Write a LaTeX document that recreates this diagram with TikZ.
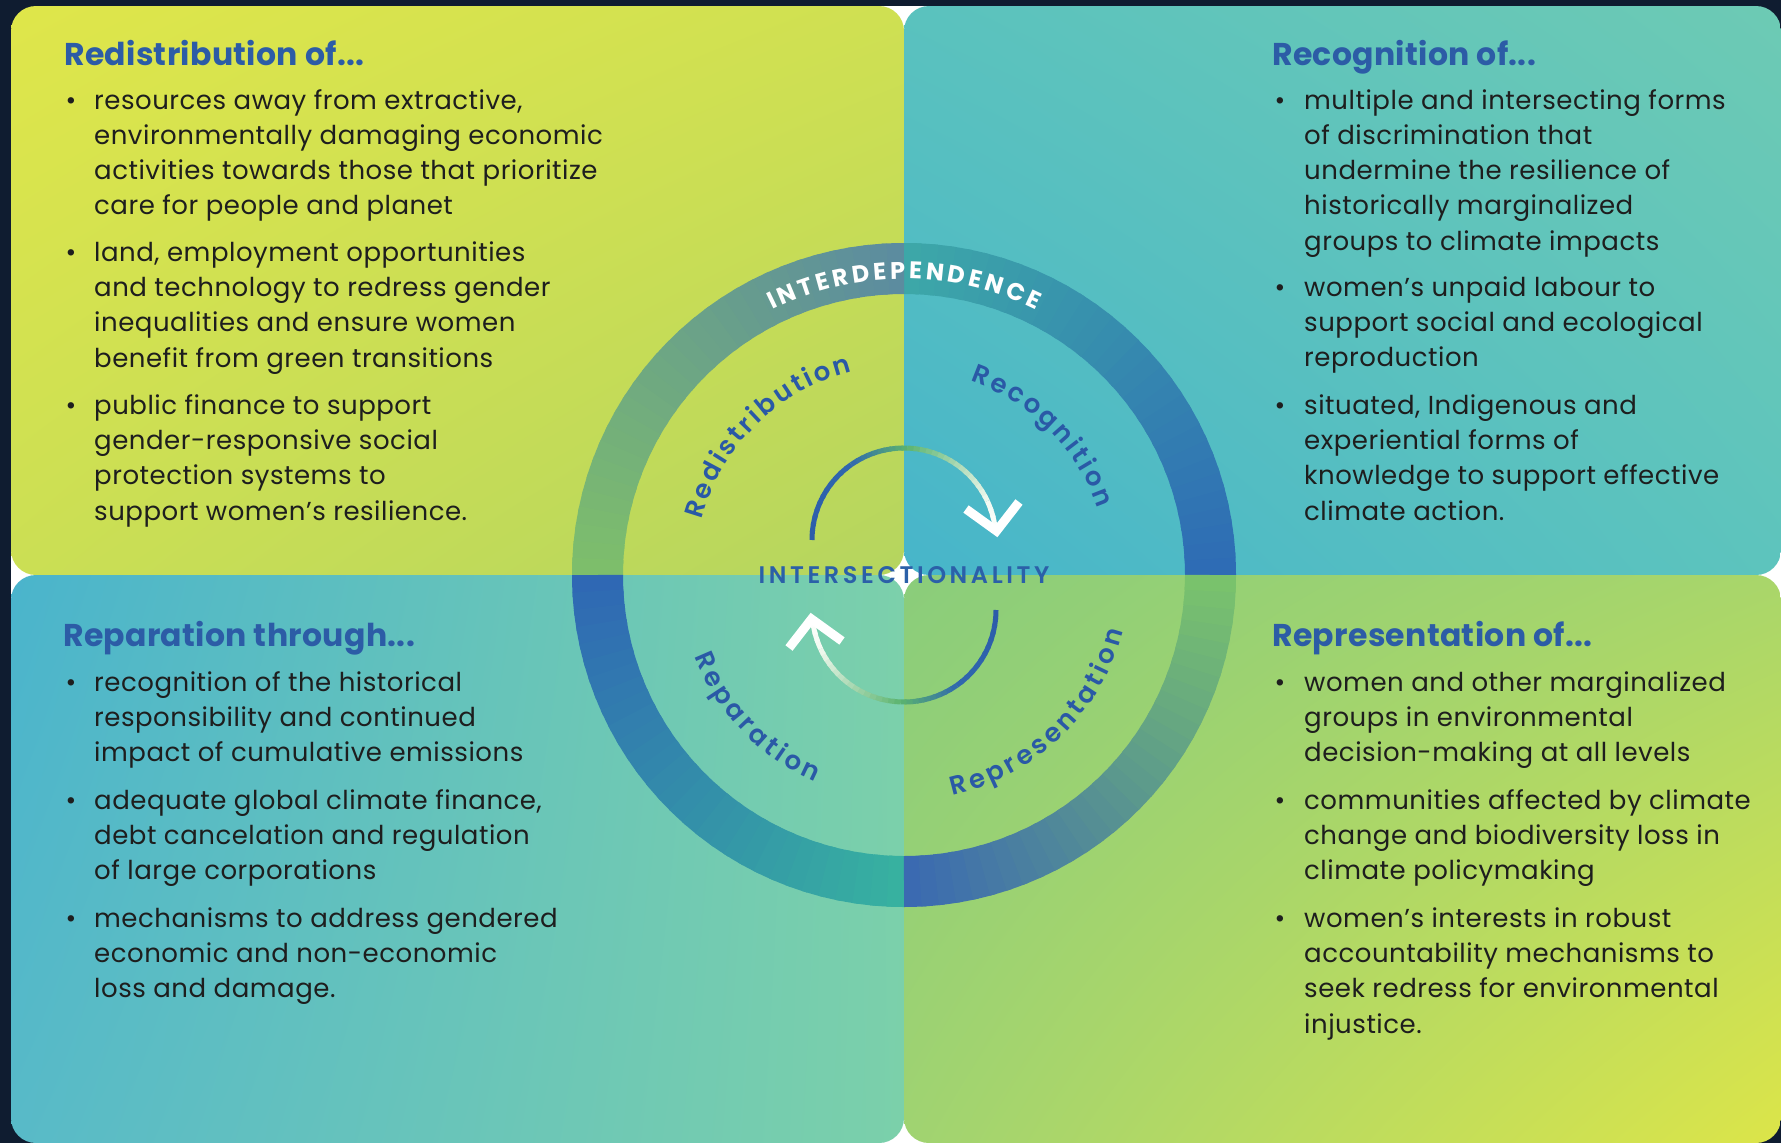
\documentclass[tikz,border=0pt]{standalone}
\usepackage{fontspec}
\setmainfont{Poppins}
\newfontfamily\popsemi{Poppins SemiBold}
\usetikzlibrary{decorations.text,shadings}
\definecolor{navy}{HTML}{0F1C30}
\definecolor{ttlblue}{HTML}{2C5CA6}
\definecolor{lblblue}{HTML}{2A59A6}
\definecolor{interblue}{HTML}{2B60A8}
\definecolor{bodytext}{HTML}{1E1E1E}
% panel corners
\definecolor{tlUL}{HTML}{DFE64A}\definecolor{tlUR}{HTML}{CFE052}\definecolor{tlLL}{HTML}{CBDF54}\definecolor{tlLR}{HTML}{B5D55F}
\definecolor{trUL}{HTML}{5AC2BE}\definecolor{trUR}{HTML}{6DCAB4}\definecolor{trLL}{HTML}{47B5CA}\definecolor{trLR}{HTML}{5DC4BD}
\definecolor{blUL}{HTML}{4AB4CC}\definecolor{blUR}{HTML}{7CD0AB}\definecolor{blLL}{HTML}{58BAC8}\definecolor{blLR}{HTML}{7BD0AA}
\definecolor{brUL}{HTML}{8ACD7B}\definecolor{brUR}{HTML}{A9D66A}\definecolor{brLL}{HTML}{A0D371}\definecolor{brLR}{HTML}{DCE549}
% ring colours
\definecolor{rTLa}{HTML}{5B8BA0}\definecolor{rTLb}{HTML}{7EBF6A}
\definecolor{rTRa}{HTML}{2E6BB5}\definecolor{rTRb}{HTML}{3DA8A8}
\definecolor{rBLa}{HTML}{2F67B4}\definecolor{rBLb}{HTML}{37B2A0}
\definecolor{rBRa}{HTML}{3A68B2}\definecolor{rBRb}{HTML}{7AC46B}
% arrow colours
\definecolor{abA}{HTML}{2C5BAA}\definecolor{abB}{HTML}{3068AE}
\definecolor{agr}{HTML}{5BB46F}\definecolor{awh}{HTML}{F2F9F0}
\newcommand\bodyfont{\fontsize{26}{35}\selectfont\addfontfeatures{LetterSpace=2}}
\newcommand\ttlfont{\fontsize{31.5}{36}\selectfont\bfseries\addfontfeatures{LetterSpace=1}}
\newcommand\lblfont{\popsemi\fontsize{26}{30}\selectfont}
\newcommand\intfont{\fontsize{24}{28}\selectfont\bfseries}
\newcommand\isfont{\popsemi\fontsize{24}{28}\selectfont\addfontfeatures{LetterSpace=15}}
\newcommand\myls{\kern2.8pt}
\newcommand\mylb{\kern3.5pt}
\newcommand\myla{\kern3.5pt}
\tikzset{
  body/.style={font=\bodyfont, text=bodytext, anchor=base west, inner sep=0pt},
  bul/.style={font=\bodyfont, text=bodytext, anchor=base, inner sep=0pt},
  ttl/.style={font=\ttlfont, text=ttlblue, anchor=base west, inner sep=0pt},
  chev/.style={white, line width=9pt, line join=miter, line cap=butt},
}
\newcommand\bline[4]{\node[body] (#1) at (#2,-#3) {#4};}
\newcommand\bdot[3]{\node[bul] (#1) at (#2,-#3) {•};}
% gradient arc: radius, a1, a2, c1, c2, n, width
\newcommand\gradarc[7]{%
  \foreach \ii in {1,...,#6}{%
    \pgfmathsetmacro\aa{#2+(#3-#2)*(\ii-1)/#6}%
    \pgfmathsetmacro\ab{#2+(#3-#2)*(\ii+0.35*(\ii<#6))/#6}%
    \pgfmathsetmacro\pp{100*(\ii-0.5)/#6}%
    \draw[line width=#7, color=#5!\pp!#4] (\aa:#1) arc[start angle=\aa, end angle=\ab, radius=#1];%
  }}
\begin{document}
\begin{tikzpicture}[x=1pt,y=1pt]
\useasboundingbox (0,0) rectangle (1781,-1143);
\fill[navy] (0,0) rectangle (1781,-1143);
\fill[white] (868,-6) rectangle (940,-1143);
\fill[white] (11,-552) rectangle (1781,-598);
% panels
\shade[rounded corners=25pt, upper left=tlUL, upper right=tlUR, lower left=tlLL, lower right=tlLR] (11,-6) rectangle (904,-575);
\shade[rounded corners=25pt, upper left=trUL, upper right=trUR, lower left=trLL, lower right=trLR] (904,-6) rectangle (1781,-575);
\shade[rounded corners=25pt, upper left=blUL, upper right=blUR, lower left=blLL, lower right=blLR] (11,-575) rectangle (904,-1143);
\shade[rounded corners=25pt, upper left=brUL, upper right=brUR, lower left=brLL, lower right=brLR] (904,-575) rectangle (1781,-1143);

% ===== central figure =====
\begin{scope}[shift={(904,-575)}]
  % outer ring
  \gradarc{306.5}{0}{90}{rTRa}{rTRb}{30}{51pt}
  \gradarc{306.5}{90}{180}{rTLa}{rTLb}{30}{51pt}
  \gradarc{306.5}{180}{270}{rBLa}{rBLb}{30}{51pt}
  \gradarc{306.5}{270}{360}{rBRa}{rBRb}{30}{51pt}
  % ring text
  \path[decorate, decoration={text along path, text align=center, text color=white,
    text={|\intfont|I{\myla}N{\myla}T{\myla}E{\myla}R{\myla}D{\myla}E{\myla}P{\myla}E{\myla}N{\myla}D{\myla}E{\myla}N{\myla}C{\myla}E}}]
    (130:296) arc[start angle=130, end angle=50, radius=296];
  % quadrant labels
  \path[decorate, decoration={text along path, text align=center, text color=lblblue,
    text={|\lblfont|R{\myls}e{\myls}d{\myls}i{\myls}s{\myls}t{\myls}r{\myls}i{\myls}b{\myls}u{\myls}t{\myls}i{\myls}o{\myls}n}}]
    (174.5:210) arc[start angle=174.5, end angle=94.5, radius=210];
  \path[decorate, decoration={text along path, text align=center, text color=lblblue,
    text={|\lblfont|R{\myls}e{\myls}c{\myls}o{\myls}g{\myls}n{\myls}i{\myls}t{\myls}i{\myls}o{\myls}n}}]
    (85:205) arc[start angle=85, end angle=5, radius=205];
  \path[decorate, decoration={text along path, text align=center, text color=lblblue,
    text={|\lblfont|R{\mylb}e{\mylb}p{\mylb}a{\mylb}r{\mylb}a{\mylb}t{\mylb}i{\mylb}o{\mylb}n}}]
    (184:225) arc[start angle=184, end angle=264, radius=225];
  \path[decorate, decoration={text along path, text align=center, text color=lblblue,
    text={|\lblfont|R{\mylb}e{\mylb}p{\mylb}r{\mylb}e{\mylb}s{\mylb}e{\mylb}n{\mylb}t{\mylb}a{\mylb}t{\mylb}i{\mylb}o{\mylb}n}}]
    (274:226) arc[start angle=274, end angle=354, radius=226];
  % inner cycle arrows
  \begin{scope}[shift={(0,35)}]
    \gradarc{92}{180}{125}{abA}{abB}{12}{5pt}
    \gradarc{92}{125}{88}{abB}{agr}{10}{5pt}
    \gradarc{92}{88}{25}{agr}{awh}{16}{5pt}
    \gradarc{92}{25}{6}{awh}{white}{4}{5pt}
  \end{scope}
  \begin{scope}[shift={(0,-35)}]
    \gradarc{92}{0}{-55}{abA}{abB}{12}{5pt}
    \gradarc{92}{-55}{-92}{abB}{agr}{10}{5pt}
    \gradarc{92}{-92}{-155}{agr}{awh}{16}{5pt}
    \gradarc{92}{-155}{-174}{awh}{white}{4}{5pt}
  \end{scope}
  \coordinate (u1) at (62,66); \coordinate (u2) at (92.5,44); \coordinate (u3) at (115,73);
  \coordinate (d1) at (-62,-66); \coordinate (d2) at (-92.5,-44); \coordinate (d3) at (-115,-73);
  \draw[chev] (u1) -- (u2) -- (u3);
  \draw[chev] (d1) -- (d2) -- (d3);
  \node[font=\isfont, text=interblue, anchor=base, inner sep=0pt] (isect) at (0,-8.3) {INTERSECTIONALITY};
\end{scope}

% ===== top left =====
\node[ttl] (tlt) at (64,-65) {Redistribution of...};
\bdot{tlb1}{71}{109}\bdot{tlb2}{71}{261}\bdot{tlb3}{71}{414}
\bline{tl1}{94}{109}{resources away from extractive,}
\bline{tl2}{94}{144.5}{environmentally damaging economic}
\bline{tl3}{94}{179.5}{activities towards those that prioritize}
\bline{tl4}{94}{214.5}{care for people and planet}
\bline{tl5}{94}{261}{land, employment opportunities}
\bline{tl6}{94}{296}{and technology to redress gender}
\bline{tl7}{94}{331.5}{inequalities and ensure women}
\bline{tl8}{94}{367}{benefit from green transitions}
\bline{tl9}{94}{414}{public finance to support}
\bline{tl10}{94}{449.5}{gender-responsive social}
\bline{tl11}{94}{484.5}{protection systems to}
\bline{tl12}{94}{520}{support women’s resilience.}

% ===== top right =====
\node[ttl] (trt) at (1272,-65) {Recognition of...};
\bdot{trb1}{1280}{109}\bdot{trb2}{1280}{296}\bdot{trb3}{1280}{414}
\bline{tr1}{1304}{109}{multiple and intersecting forms}
\bline{tr2}{1304}{144}{of discrimination that}
\bline{tr3}{1304}{179}{undermine the resilience of}
\bline{tr4}{1304}{214.5}{historically marginalized}
\bline{tr5}{1304}{250}{groups to climate impacts}
\bline{tr6}{1304}{296}{women’s unpaid labour to}
\bline{tr7}{1304}{331}{support social and ecological}
\bline{tr8}{1304}{366}{reproduction}
\bline{tr9}{1304}{414}{situated, Indigenous and}
\bline{tr10}{1304}{449}{experiential forms of}
\bline{tr11}{1304}{484.5}{knowledge to support effective}
\bline{tr12}{1304}{520}{climate action.}

% ===== bottom left =====
\node[ttl] (blt) at (63,-646) {Reparation through...};
\bdot{blb1}{71}{691}\bdot{blb2}{71}{809}\bdot{blb3}{71}{927}
\bline{bl1}{94}{691}{recognition of the historical}
\bline{bl2}{94}{726}{responsibility and continued}
\bline{bl3}{94}{761.5}{impact of cumulative emissions}
\bline{bl4}{94}{809}{adequate global climate finance,}
\bline{bl5}{94}{844}{debt cancelation and regulation}
\bline{bl6}{94}{879.5}{of large corporations}
\bline{bl7}{94}{927}{mechanisms to address gendered}
\bline{bl8}{94}{962}{economic and non-economic}
\bline{bl9}{94}{997.5}{loss and damage.}

% ===== bottom right =====
\node[ttl] (brt) at (1272,-646) {Representation of...};
\bdot{brb1}{1280}{691}\bdot{brb2}{1280}{809}\bdot{brb3}{1280}{927}
\bline{br1}{1304}{691}{women and other marginalized}
\bline{br2}{1304}{726}{groups in environmental}
\bline{br3}{1304}{761.5}{decision-making at all levels}
\bline{br4}{1304}{809}{communities affected by climate}
\bline{br5}{1304}{844}{change and biodiversity loss in}
\bline{br6}{1304}{879.5}{climate policymaking}
\bline{br7}{1304}{927}{women’s interests in robust}
\bline{br8}{1304}{962}{accountability mechanisms to}
\bline{br9}{1304}{997.5}{seek redress for environmental}
\bline{br10}{1304}{1033}{injustice.}
\end{tikzpicture}
\end{document}
